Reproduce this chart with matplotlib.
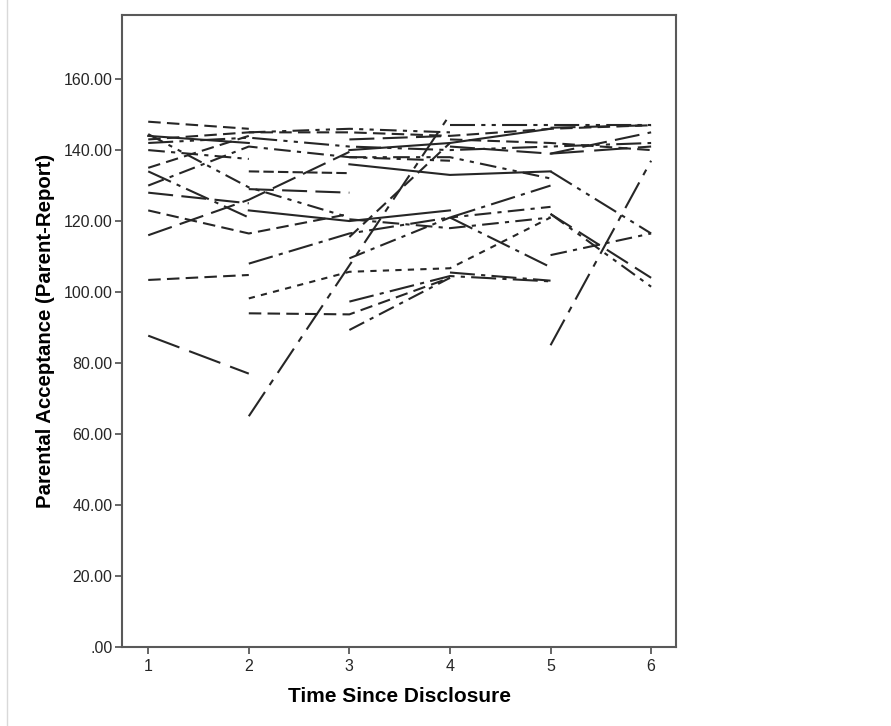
import numpy as np
import matplotlib
matplotlib.use('Agg')
import matplotlib.pyplot as plt
from matplotlib.lines import Line2D

nan = np.nan
times = [1, 2, 3, 4, 5, 6]

# one row per participant, nan = not measured at that time point
subjects = [
    [148.0, 146.0, nan, nan, nan, nan],
    [144.0, 142.0, nan, nan, nan, nan],
    [140.0, 137.5, nan, nan, nan, nan],
    [135.0, 144.0, nan, nan, nan, nan],
    [130.0, 141.0, 138.0, 137.0, nan, nan],
    [128.0, 125.0, nan, nan, nan, nan],
    [123.0, 116.5, 122.0, nan, nan, nan],
    [134.0, 121.0, nan, nan, nan, nan],
    [116.0, 126.0, 139.5, nan, nan, nan],
    [144.5, 129.5, 121.0, nan, nan, nan],
    [143.0, 145.0, 145.0, 144.0, 146.0, 147.0],
    [142.0, 143.5, 141.0, 140.0, 141.0, 142.0],
    [103.4, 104.8, nan, nan, nan, nan],
    [87.7, 77.0, nan, nan, nan, nan],
    [nan, 134.0, 133.5, nan, nan, nan],
    [nan, 129.0, 128.0, nan, nan, nan],
    [nan, 123.0, 120.0, 123.0, nan, nan],
    [nan, 108.0, 116.5, 121.0, 130.0, nan],
    [nan, 98.2, 105.7, 106.7, 121.0, nan],
    [nan, 94.0, 93.7, 104.0, nan, nan],
    [nan, 65.0, nan, 150.0, nan, nan],
    [nan, 145.0, 146.0, 145.0, nan, nan],
    [nan, nan, 89.3, 104.0, nan, nan],
    [nan, nan, 97.3, 104.5, 103.0, nan],
    [nan, nan, 109.5, 121.0, 124.0, nan],
    [nan, nan, 115.5, 142.0, nan, nan],
    [nan, nan, 143.0, 144.0, nan, nan],
    [nan, nan, 140.0, 142.0, 146.0, nan],
    [nan, nan, 136.0, 133.0, 134.0, nan],
    [nan, nan, 138.0, 138.0, 132.0, nan],
    [nan, nan, 120.5, 118.0, 121.0, nan],
    [nan, nan, nan, 147.0, 147.0, 147.0],
    [nan, nan, nan, 141.0, 139.0, 145.0],
    [nan, nan, nan, 143.0, 142.0, 140.0],
    [nan, nan, nan, 121.0, 107.0, nan],
    [nan, nan, nan, 105.5, 103.2, nan],
    [nan, nan, nan, nan, 146.3, 147.0],
    [nan, nan, nan, nan, 110.4, 116.5],
    [nan, nan, nan, nan, 122.0, 101.5],
    [nan, nan, nan, nan, 122.0, 104.0],
    [nan, nan, nan, nan, 85.0, 137.0],
    [nan, nan, nan, nan, 139.0, 141.0],
    [nan, nan, nan, nan, 134.0, 116.5],
]

y_ticks = [0, 20, 40, 60, 80, 100, 120, 140, 160]
y_labels = ['.00', '20.00', '40.00', '60.00', '80.00', '100.00',
            '120.00', '140.00', '160.00']

plt.rcParams['font.family'] = ['Liberation Sans', 'DejaVu Sans']

# SPSS style line patterns
dashes = [
    None,                     # 0 solid
    (6, 3),                   # 1 dash
    (12, 4),                  # 2 long dash
    (8, 3, 2, 3),             # 3 dash-dot
    (12, 3, 2, 3),            # 4 long dash-dot
    (8, 3, 2, 3, 2, 3),       # 5 dash-dot-dot
    (3, 3),                   # 6 dotted
    (14, 4, 3, 4),            # 7 long dash-dot wide
    (5, 2),                   # 8 short dash
    (2, 2),                   # 9 dots
    (12, 3, 2, 3, 2, 3),      # 10 long dash-dot-dot
    (16, 5),                  # 11 very long dash
]
style_of = [1, 0, 3, 1, 3, 2, 1, 4, 2, 5, 1, 10, 1, 11, 8, 2, 0, 4, 6, 1,
            7, 5, 3, 4, 3, 1, 2, 0, 0, 5, 3, 10, 2, 1, 4, 4, 2, 3, 5, 2,
            7, 11, 10]

fig = plt.figure(figsize=(8.91, 7.26), dpi=100)
ax = fig.add_axes([0.137, 0.109, 0.622, 0.870])

t = np.array(times, dtype=float)
for i, row in enumerate(subjects):
    v = np.array(row, dtype=float)
    ok = ~np.isnan(v)  # SPSS joins the observed points, skipping gaps
    d = dashes[style_of[i]]
    ln, = ax.plot(t[ok], v[ok], color='0.15', linewidth=1.5)
    if d is not None:
        ln.set_dashes(d)

ax.set_xlim(0.74, 6.25)
ax.set_ylim(0, 178)
ax.set_xticks(times)
ax.set_yticks(y_ticks)
ax.set_yticklabels(y_labels)
ax.tick_params(direction='out', length=5, width=1.2, color='0.3',
               labelsize=11.5, labelcolor='0.15', pad=2)
ax.tick_params(axis='x', pad=4)
for s in ax.spines.values():
    s.set_color('0.35')
    s.set_linewidth(1.5)

ax.set_xlabel('Time Since Disclosure', fontsize=15, fontweight='bold', labelpad=9)
ax.set_ylabel('Parental Acceptance (Parent-Report)', fontsize=14.7,
              fontweight='bold', labelpad=6)

# faint border on the left edge of the image
fig.add_artist(Line2D([0.008, 0.008], [0.0, 1.0], color='0.85', linewidth=1))

fig.savefig('out.png', dpi=100)
